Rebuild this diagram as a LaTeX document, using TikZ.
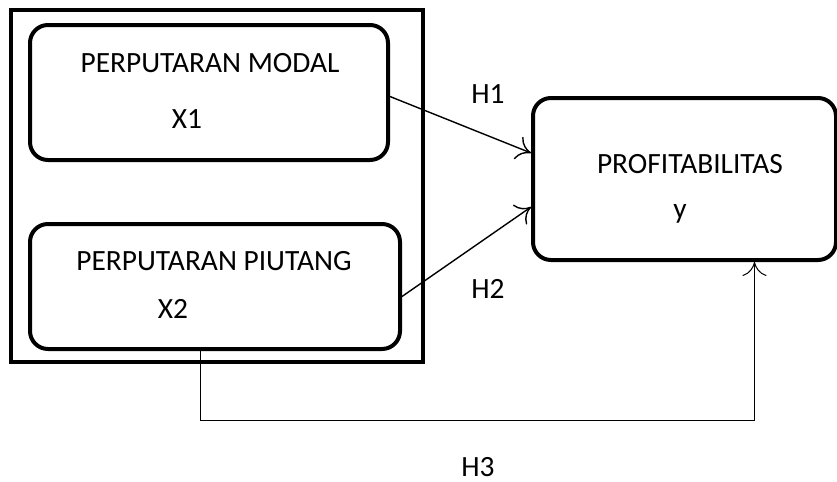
\documentclass[tikz,border=0pt]{standalone}
\usepackage{fontspec}
\setmainfont{Carlito}
\usepackage{tikz}
\usetikzlibrary{arrows.meta}

\tikzset{
  varbox/.style = {draw, line width = 2pt, rounded corners = 9pt, inner sep = 0pt},
  lbl/.style = {anchor = base, inner sep = 0pt, font = \fontsize{14.7pt}{17pt}\selectfont},
  link/.style = {line width = 0.7pt, -{To[length = 7pt, width = 12pt]}}
}

\begin{document}
\begin{tikzpicture}[x = 0.5pt, y = -0.5pt]
\useasboundingbox (0,0) rectangle (837,482);
\node [draw, line width = 2pt, minimum width = 206pt, minimum height = 176pt, inner sep = 0pt] (outer) at (217,186) {};
\node [varbox, minimum width = 179pt, minimum height = 67.5pt] (modal) at (209,92.5) {};
\node [varbox, minimum width = 185pt, minimum height = 62.5pt] (piutang) at (215,286.5) {};
\node [varbox, minimum width = 151.5pt, minimum height = 81pt] (profit) at (684.5,179) {};
\node [lbl] (tmodal) at (210,72) {PERPUTARAN MODAL};
\node [lbl] (tx1) at (187,128) {X1};
\node [lbl] (tpiutang) at (214,270) {PERPUTARAN PIUTANG};
\node [lbl] (tx2) at (173,318) {X2};
\node [lbl] (tprofit) at (690,173) {PROFITABILITAS};
\node [lbl] (ty) at (680,218) {y};
\node [lbl] (h1) at (488,104) {H1};
\node [lbl] (h2) at (488,298) {H2};
\node [lbl] (h3) at (478,476) {H3};
\draw [link] ([yshift = -2pt]modal.east) -- ([yshift = 13pt]profit.west);
\draw [link] ([yshift = -5pt]piutang.east) -- ([yshift = -14pt]profit.west);
\draw [link, line width = 0.5pt] ([xshift = -7.5pt]piutang.south) -- ++(0pt,-34.5pt) -| ([xshift = 35pt]profit.south);
\end{tikzpicture}
\end{document}
